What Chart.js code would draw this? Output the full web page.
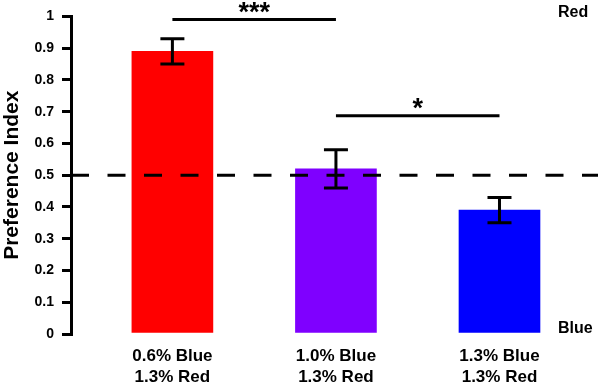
<!DOCTYPE html>
<html>
<head>
<meta charset="utf-8">
<script src="https://cdn.jsdelivr.net/npm/chart.js@4/dist/chart.umd.min.js"></script>
<style>
  html, body { margin: 0; padding: 0; background: #fff; }
  #contenedor { width: 598px; height: 384px; }
</style>
</head>
<body>
<div id="contenedor"><canvas id="grafico"></canvas></div>
<script>
const categorias = [['0.6% Blue', '1.3% Red'], ['1.0% Blue', '1.3% Red'], ['1.3% Blue', '1.3% Red']];
const posiciones = [1, 2, 3];
const valores = [0.89, 0.52, 0.39];
const errores = [0.04, 0.06, 0.04];
const colores = ['#ff0000', '#7f00ff', '#0000ff'];
const comparaciones = [
  { desde: 0, hasta: 1, nivel: 0.99, texto: '***' },
  { desde: 1, hasta: 2, nivel: 0.687, texto: '*' }
];
const lineaAzar = 0.5;

const FUENTE = '"Liberation Sans", Arial, sans-serif';

const extras = {
  id: 'extras',
  afterDatasetsDraw(chart) {
    const { ctx, chartArea, scales: { x, y } } = chart;
    ctx.save();
    ctx.strokeStyle = '#000';
    ctx.fillStyle = '#000';
    ctx.lineWidth = 3;

    // linea discontinua en 0.5
    const y50 = y.getPixelForValue(lineaAzar);
    ctx.setLineDash([18, 18.5]);
    ctx.beginPath();
    ctx.moveTo(chartArea.left, y50);
    ctx.lineTo(chart.width, y50);
    ctx.stroke();
    ctx.setLineDash([]);

    // barras de error
    valores.forEach((v, i) => {
      const px = x.getPixelForValue(posiciones[i]);
      const arriba = y.getPixelForValue(v + errores[i]);
      const abajo = y.getPixelForValue(v - errores[i]);
      ctx.beginPath();
      ctx.moveTo(px, arriba); ctx.lineTo(px, abajo);
      ctx.moveTo(px - 12, arriba); ctx.lineTo(px + 12, arriba);
      ctx.moveTo(px - 12, abajo); ctx.lineTo(px + 12, abajo);
      ctx.stroke();
    });

    // comparaciones
    ctx.font = `bold 27px ${FUENTE}`;
    ctx.textAlign = 'center';
    ctx.textBaseline = 'alphabetic';
    comparaciones.forEach(c => {
      const x1 = x.getPixelForValue(posiciones[c.desde]);
      const x2 = x.getPixelForValue(posiciones[c.hasta]);
      const py = y.getPixelForValue(c.nivel);
      ctx.beginPath();
      ctx.moveTo(x1, py); ctx.lineTo(x2, py);
      ctx.stroke();
      ctx.fillText(c.texto, (x1 + x2) / 2, py + 1);
    });

    // Red / Blue
    ctx.font = `bold 16px ${FUENTE}`;
    ctx.textAlign = 'left';
    ctx.textBaseline = 'middle';
    ctx.fillText('Red', 558, y.getPixelForValue(1) - 4);
    ctx.fillText('Blue', 558, y.getPixelForValue(0) - 5);
    ctx.restore();
  }
};

new Chart(document.getElementById('grafico'), {
  type: 'bar',
  data: {
    datasets: [{
      data: posiciones.map((p, i) => ({ x: p, y: valores[i] })),
      backgroundColor: colores,
      borderWidth: 0,
      barThickness: 81
    }]
  },
  options: {
    responsive: true,
    maintainAspectRatio: false,
    animation: false,
    layout: { padding: { top: 14, right: 38, left: 0, bottom: 0 } },
    plugins: {
      legend: { display: false },
      tooltip: { enabled: false }
    },
    scales: {
      x: {
        type: 'linear',
        offset: false,
        min: 0.38,
        max: 3.37,
        grid: { display: false },
        border: { display: false },
        afterBuildTicks: (axis) => { axis.ticks = posiciones.map(v => ({ value: v })); },
        afterFit: (axis) => { axis.height = 50; },
        ticks: {
          padding: 4,
          color: '#000',
          maxRotation: 0,
          autoSkip: false,
          font: { family: FUENTE, size: 17, weight: 'bold', lineHeight: 1.24 },
          callback: (v) => categorias[posiciones.indexOf(v)] || ''
        }
      },
      y: {
        min: 0,
        max: 1,
        afterFit: (axis) => { axis.width = 71; },
        ticks: {
          stepSize: 0.1,
          padding: 8,
          color: '#000',
          font: { family: FUENTE, size: 14, weight: 'bold' },
          callback: (v) => String(+v.toFixed(1))
        },
        grid: { drawOnChartArea: false, color: '#000', lineWidth: 3, tickLength: 9 },
        border: { color: '#000', width: 3 },
        title: {
          display: true,
          text: 'Preference Index',
          color: '#000',
          padding: { top: 0, bottom: 0 },
          font: { family: FUENTE, size: 21, weight: 'bold' }
        }
      }
    }
  },
  plugins: [extras]
});
</script>
</body>
</html>
